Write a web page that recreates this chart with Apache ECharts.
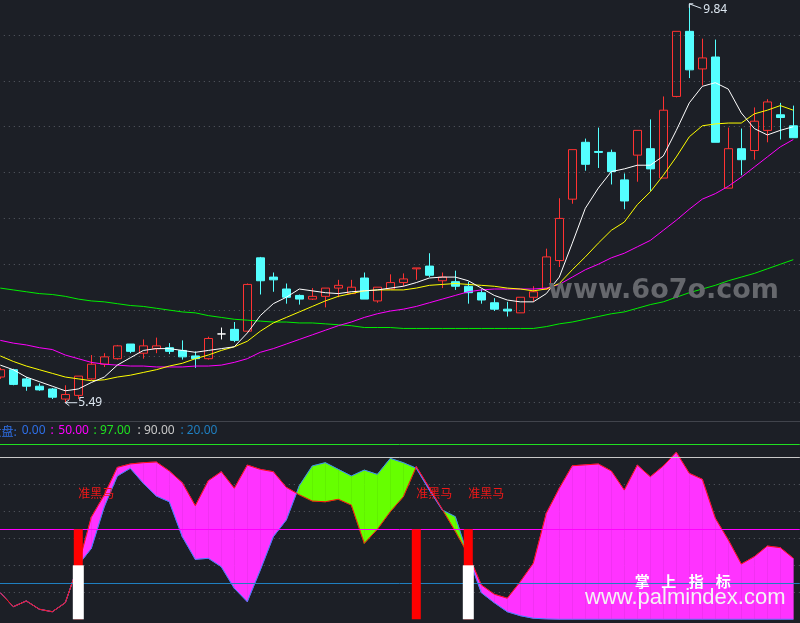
<!DOCTYPE html>
<html><head><meta charset="utf-8">
<script src="https://cdn.jsdelivr.net/npm/echarts@6/dist/echarts.min.js"></script>
<style>html,body{margin:0;padding:0;background:#1c1f26;}#c{width:800px;height:623px;}</style>
</head><body><div id="c"></div>
<script>
// ---- candles (price) ----
const openP  = [5.77,5.85,5.75,5.67,5.64,5.53,5.57,5.75,5.91,5.97, 6.13,6.03,6.08,6.09,6.06,6.00,5.97,6.24,6.29,6.27, 7.07,6.86,6.73,6.66,6.62,6.65,6.74,6.68,6.85,6.60, 6.73,6.80,6.95,6.98,6.82,6.81,6.76,6.69,6.58,6.51, 6.47,6.64,6.73,7.04,7.71,8.33,8.23,8.22,7.92,8.19, 8.26,7.94,8.83,9.54,9.13,9.26,7.83,8.26,8.24,8.46, 8.63,8.51];
const closeP = [5.85,5.69,5.67,5.63,5.55,5.58,5.78,5.91,5.99,6.11, 6.05,6.11,6.11,6.05,5.99,5.97,6.19,6.24,6.17,6.78, 6.82,6.83,6.64,6.62,6.65,6.74,6.77,6.75,6.62,6.75, 6.80,6.84,6.96,6.88,6.86,6.76,6.69,6.61,6.51,6.49, 6.64,6.70,7.08,7.50,8.25,8.09,8.22,8.01,7.69,8.46, 8.04,8.68,9.54,9.12,9.25,8.33,8.26,8.14,8.56,8.77, 8.60,8.38];
const highP  = [5.87,5.86,5.77,5.70,5.65,5.68,5.78,6.01,6.03,6.12, 6.13,6.18,6.20,6.14,6.17,6.05,6.21,6.31,6.37,6.79, 7.08,6.91,6.79,6.67,6.74,6.74,6.83,6.83,6.91,6.75, 6.89,6.90,6.96,7.12,6.91,6.93,6.81,6.73,6.63,6.59, 6.64,6.76,7.17,7.72,8.25,8.37,8.49,8.25,7.99,8.46, 8.58,8.83,9.54,9.84,9.46,9.45,8.49,8.48,8.71,8.80, 8.76,8.73];
const lowP   = [5.75,5.68,5.62,5.62,5.53,5.49,5.53,5.74,5.88,5.96, 6.03,5.97,6.03,6.02,5.96,5.87,5.96,6.18,6.15,6.27, 6.67,6.70,6.57,6.56,6.61,6.53,6.64,6.68,6.62,6.58, 6.73,6.76,6.83,6.86,6.74,6.72,6.57,6.57,6.49,6.43, 6.47,6.59,6.72,6.97,7.66,8.02,8.05,7.87,7.60,7.90, 7.80,7.94,8.82,9.03,8.95,8.33,7.83,7.97,8.14,8.33, 8.36,8.38];
// ---- moving average lines ----
const maWhite  = [5.90,5.85,5.77,5.72,5.67,5.62,5.64,5.71,5.77,5.90, 5.98,6.06,6.08,6.08,6.06,6.04,6.06,6.08,6.10,6.25, 6.44,6.57,6.64,6.73,6.71,6.69,6.68,6.70,6.71,6.72, 6.74,6.76,6.80,6.85,6.86,6.86,6.82,6.74,6.66,6.61, 6.59,6.59,6.68,6.86,7.23,7.61,7.83,8.01,8.04,8.08, 8.08,8.18,8.46,8.76,8.94,8.98,8.91,8.65,8.48,8.41, 8.46,8.50];
const maYellow = [6.00,5.94,5.89,5.85,5.81,5.77,5.75,5.73,5.74,5.77, 5.79,5.82,5.85,5.89,5.92,5.97,6.01,6.06,6.10,6.16, 6.27,6.36,6.42,6.48,6.54,6.60,6.65,6.68,6.71,6.72, 6.72,6.72,6.74,6.77,6.78,6.79,6.78,6.77,6.76,6.74, 6.73,6.71,6.73,6.79,6.94,7.08,7.23,7.37,7.46,7.65, 7.79,7.97,8.17,8.39,8.51,8.53,8.54,8.54,8.64,8.68, 8.73,8.68];
const maMagenta= [6.17,6.14,6.12,6.09,6.07,6.01,5.97,5.93,5.91,5.90, 5.89,5.89,5.88,5.88,5.88,5.89,5.89,5.90,5.93,5.97, 6.04,6.08,6.13,6.18,6.23,6.28,6.33,6.37,6.42,6.46, 6.49,6.51,6.54,6.58,6.62,6.66,6.70,6.72,6.73,6.73, 6.73,6.73,6.74,6.78,6.86,6.94,7.00,7.07,7.12,7.19, 7.26,7.37,7.48,7.60,7.71,7.77,7.85,7.95,8.06,8.17, 8.28,8.36];
const maGreen  = [6.74,6.72,6.70,6.68,6.67,6.65,6.62,6.60,6.59,6.57, 6.55,6.54,6.52,6.50,6.48,6.47,6.44,6.42,6.40,6.39, 6.38,6.37,6.37,6.36,6.36,6.35,6.34,6.33,6.31,6.31, 6.31,6.30,6.30,6.30,6.30,6.30,6.30,6.30,6.30,6.30, 6.30,6.30,6.32,6.35,6.37,6.40,6.43,6.46,6.48,6.52, 6.56,6.59,6.64,6.69,6.73,6.77,6.82,6.86,6.90,6.95, 7.00,7.05];
// ---- indicator panel ----
const redLine  = [14.8,7.0,10.2,5.6,4.2,9.2,30.2,56.7,69.1,84.4, 86.3,87.0,87.4,82.4,75.9,63.1,77.0,82.0,72.8,85.7, 83.3,82.0,73.3,69.2,65.7,65.3,66.7,63.5,42.2,50.0, 59.8,68.1,84.8,73.1,61.1,48.9,35.9,19.1,13.9,11.7, 20.9,31.1,58.9,72.8,85.3,85.8,86.3,82.4,71.8,85.7, 79.2,85.2,92.8,81.1,77.8,56.1,44.1,30.7,34.8,40.7, 39.8,33.9];
const blueLine = [14.8,7.0,10.2,5.6,4.2,9.2,30.2,39.4,62.6,79.6, 83.9,75.6,68.5,65.3,45.9,33.3,33.9,29.2,17.2,9.8, 27.4,45.9,55.2,74.2,85.2,87.0,83.3,79.6,82.9,80.5, 89.4,87.0,83.9,71.8,60.7,57.0,34.8,14.8,9.2,4.2, 2.0,0.6,0.2,0,0,0,0,0,0,0, 0,0,0,0,0,0,0,0,0,0, 0,0];
const refLevels = [0, 50, 97, 90, 20];
const signalIdx = [6, 32, 36];
const signalTop = 50;
const baseIdx = [6, 36];
const baseTop = 30;
const signalText = '准黑马';
const signalTextLevel = 70;
const lowMark = [5, 5.49];
const highMark = [53, 9.84];

const N = openP.length;
const cats = openP.map((_, i) => 'D' + (i + 1));
const BG = '#1c1f26';
const chart = echarts.init(document.getElementById('c'), null, {renderer: 'canvas'});

const hiddenY = (min, max, interval) => ({
  type: 'value', min, max, interval,
  axisLine: {show: false}, axisTick: {show: false}, axisLabel: {show: false},
  splitLine: {show: true, showMinLine: false, showMaxLine: false,
    lineStyle: {color: '#585c65', type: [1, 4], width: 1}}
});

function renderFill(params, api) {
  const i = params.dataIndex;
  if (i >= N - 1) return null;
  const r0 = redLine[i], b0 = blueLine[i], r1 = redLine[i + 1], b1 = blueLine[i + 1];
  const d0 = r0 - b0, d1 = r1 - b1;
  const R0 = api.coord([i, r0]), B0 = api.coord([i, b0]);
  const R1 = api.coord([i + 1, r1]), B1 = api.coord([i + 1, b1]);
  const col = d => (d >= 0 ? '#ff33ff' : '#66ff00');
  const poly = (pts, c) => ({type: 'polygon', shape: {points: pts}, style: {fill: c, stroke: c, lineWidth: 0.6}});
  const children = [];
  if (d0 * d1 >= 0) {
    children.push(poly([R0, R1, B1, B0], col(d0 + d1)));
  } else {
    const t = d0 / (d0 - d1);
    const C = [R0[0] + t * (R1[0] - R0[0]), R0[1] + t * (R1[1] - R0[1])];
    children.push(poly([R0, C, B0], col(d0)));
    children.push(poly([C, R1, B1], col(d1)));
  }
  return {type: 'group', children};
}

function renderStick(color, w) {
  return function (params, api) {
    const p0 = api.coord([api.value(0), 0]);
    const p1 = api.coord([api.value(0), api.value(1)]);
    return {type: 'rect', shape: {x: p0[0] - w / 2, y: p1[1], width: w, height: p0[1] - p1[1]},
      style: {fill: color}};
  };
}

function renderSignalText(params, api) {
  const p = api.coord([api.value(0), api.value(1)]);
  return {type: 'text', style: {text: signalText, x: p[0], y: p[1], fill: '#f01818',
    font: '12px "Noto Sans CJK SC"', align: 'left', verticalAlign: 'middle',
    textAlign: 'left', textVerticalAlign: 'middle'}};
}

function renderPriceMark(params, api) {
  const v = api.value(1);
  const p = api.coord([api.value(0), v]);
  const col = '#dce6f0';
  const font = '12px "Noto Sans", "DejaVu Sans"';
  if (params.dataIndex === 0) {
    const x = p[0], y = p[1];
    return {type: 'group', children: [
      {type: 'line', shape: {x1: x, y1: y, x2: x + 12, y2: y}, style: {stroke: col, lineWidth: 1}},
      {type: 'polyline', shape: {points: [[x + 4, y - 3], [x, y], [x + 4, y + 3]]}, style: {stroke: col, fill: null, lineWidth: 1}},
      {type: 'text', style: {text: v.toFixed(2), x: x + 13, y: y, fill: col, font, align: 'left', verticalAlign: 'middle', textAlign: 'left', textVerticalAlign: 'middle'}}
    ]};
  }
  const x = p[0], y = p[1];
  return {type: 'group', children: [
    {type: 'line', shape: {x1: x, y1: y, x2: x + 12, y2: y + 4.5}, style: {stroke: col, lineWidth: 1}},
    {type: 'polyline', shape: {points: [[x + 4, y], [x, y], [x, y + 4]]}, style: {stroke: col, fill: null, lineWidth: 1}},
    {type: 'text', style: {text: v.toFixed(2), x: x + 14, y: y + 5.5, fill: col, font, align: 'left', verticalAlign: 'middle', textAlign: 'left', textVerticalAlign: 'middle'}}
  ]};
}

const lineSeries = (data, color, z) => ({
  type: 'line', xAxisIndex: 0, yAxisIndex: 0, data, symbol: 'none', smooth: false, z,
  lineStyle: {color, width: 1}, silent: true
});

const refColors = ['#2e6fe6', '#ff00ff', '#20e020', '#c8c8c8', '#1f7fc0'];

const legendX = [21.7, 58.3, 100, 144, 186.7];
const colonX = [null, 50.5, 93.5, 137.5, 180.5];
const legendEls = [{type: 'text', x: -10.5, y: 431, style: {text: '大盘:', fill: refColors[0], font: '12px "Noto Sans CJK SC"', verticalAlign: 'middle', textVerticalAlign: 'middle'}}];
refLevels.forEach((v, k) => {
  legendEls.push({type: 'text', x: legendX[k], y: 431, style: {text: v.toFixed(2), fill: refColors[k], font: '12px "Noto Sans", "Noto Sans CJK SC"', verticalAlign: 'middle', textVerticalAlign: 'middle'}});
  if (colonX[k] !== null) legendEls.push({type: 'text', x: colonX[k], y: 431, style: {text: ':', fill: refColors[k], font: '12px "Noto Sans"', verticalAlign: 'middle', textVerticalAlign: 'middle'}});
});

const wmChars = ['掌', '上', '指', '标'];
const wmCharX = [642.3, 668.8, 696.3, 723.3];

chart.setOption({
  backgroundColor: BG,
  animation: false,
  grid: [
    {left: -6.2, right: 0.2, top: -10.85, height: 458.5, outerBoundsMode: 'none', containLabel: false},
    {left: -6.2, right: 0.2, top: 439.3, height: 180, outerBoundsMode: 'none', containLabel: false}
  ],
  xAxis: [
    {type: 'category', gridIndex: 0, data: cats, boundaryGap: true, show: false},
    {type: 'category', gridIndex: 1, data: cats, boundaryGap: true, show: false}
  ],
  yAxis: [
    Object.assign({gridIndex: 0}, hiddenY(5, 10, 0.5)),
    Object.assign({gridIndex: 1}, hiddenY(0, 100, 15))
  ],
  series: [
    {
      type: 'candlestick', xAxisIndex: 0, yAxisIndex: 0, barWidth: 8, z: 2, silent: true,
      data: openP.map((o, i) => [o, closeP[i], lowP[i], highP[i]]),
      itemStyle: {color: 'transparent', color0: '#54ffff', borderColor: '#ff3232', borderColor0: '#54ffff', borderColorDoji: '#ffffff', borderWidth: 1}
    },
    lineSeries(maGreen, '#00ee00', 3),
    lineSeries(maMagenta, '#ff00ff', 3),
    lineSeries(maYellow, '#ffff00', 3),
    lineSeries(maWhite, '#ffffff', 4),
    {type: 'custom', xAxisIndex: 0, yAxisIndex: 0, z: 6, silent: true,
     data: [lowMark, highMark], renderItem: renderPriceMark},
    {type: 'custom', xAxisIndex: 1, yAxisIndex: 1, z: 1, silent: true,
     data: redLine.map((v, i) => [i, v, blueLine[i]]), renderItem: renderFill},
    {type: 'line', xAxisIndex: 1, yAxisIndex: 1, data: blueLine, symbol: 'none', z: 3, silent: true,
     lineStyle: {color: '#3a86ff', width: 1},
     markLine: {silent: true, symbol: ['none', 'none'], label: {show: false}, animation: false,
       data: refLevels.slice(1).map((v, k) => ({yAxis: v, lineStyle: {color: refColors[k + 1], type: 'solid', width: 1}}))}},
    {type: 'line', xAxisIndex: 1, yAxisIndex: 1, data: redLine, symbol: 'none', z: 4, silent: true,
     lineStyle: {color: '#ff1010', width: 1}},
    {type: 'custom', xAxisIndex: 1, yAxisIndex: 1, z: 5, silent: true,
     data: signalIdx.map(i => [i, signalTop]), renderItem: renderStick('#ff0000', 9)},
    {type: 'custom', xAxisIndex: 1, yAxisIndex: 1, z: 6, silent: true,
     data: baseIdx.map(i => [i, baseTop]), renderItem: renderStick('#ffffff', 11)},
    {type: 'custom', xAxisIndex: 1, yAxisIndex: 1, z: 7, silent: true,
     data: signalIdx.map(i => [i, signalTextLevel]), renderItem: renderSignalText}
  ],
  graphic: [
    {type: 'line', shape: {x1: 0, y1: 421.5, x2: 800, y2: 421.5}, style: {stroke: '#41444c', lineWidth: 1}, z: 10},
    ...legendEls.map(e => Object.assign({z: 10}, e)),
    {type: 'text', x: 548, y: 291, z: 20, style: {text: 'www.6o7o.com', fill: '#66686d', font: 'bold 27px "DejaVu Sans"', verticalAlign: 'middle', textVerticalAlign: 'middle'}},
    ...wmChars.map((c, k) => ({type: 'text', x: wmCharX[k], y: 581, z: 20, style: {text: c, fill: '#ffffff', font: 'bold 15px "Noto Sans CJK SC"', align: 'center', textAlign: 'center', verticalAlign: 'middle', textVerticalAlign: 'middle'}})),
    {type: 'text', x: 585, y: 597.5, z: 20, style: {text: 'www.palmindex.com', fill: '#f4f4f4', font: '22px "Liberation Sans"', verticalAlign: 'middle', textVerticalAlign: 'middle'}}
  ]
});
</script></body></html>
